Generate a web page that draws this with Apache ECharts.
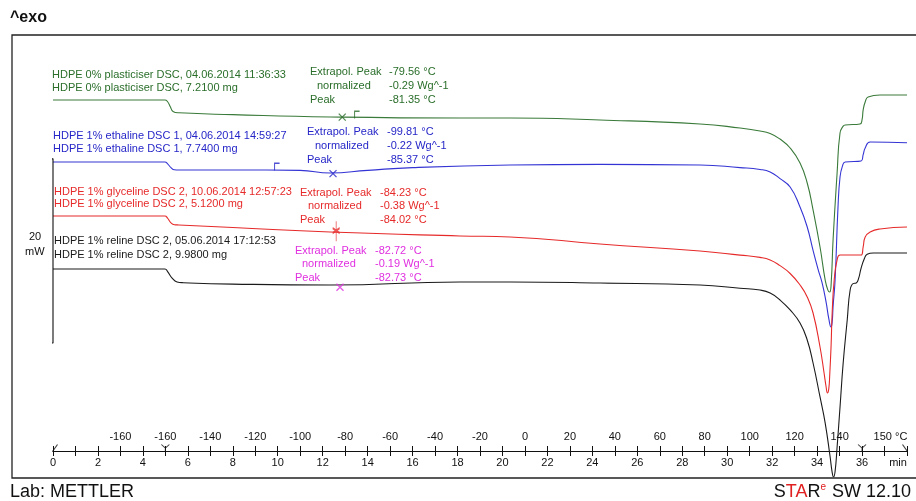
<!DOCTYPE html>
<html><head><meta charset="utf-8">
<script src="https://cdn.jsdelivr.net/npm/echarts@6/dist/echarts.min.js"></script>
<style>html,body{margin:0;padding:0;background:#fff}#c{width:916px;height:501px}</style>
</head><body><div id="c"></div>
<script>
// ---- data (time in min, heat flow in mW, arbitrary offset per curve) ----
const greenCurve = [[0,40.94],[4.98,40.94],[5.1,40.75],[5.22,40.2],[5.34,39.7],[5.6,39.55],[8,39.35],[12.33,39.1],[18.11,38.99],[20.34,38.99],[24.34,38.77],[28.79,38.34],[30.57,37.9],[31.46,37.58],[31.91,37.3],[32.35,36.7],[32.8,35.73],[33.24,34.10],[33.56,31.93],[33.82,29.0],[34.13,24.98],[34.36,21.39],[34.48,20.3],[34.56,20.09],[34.63,21.2],[34.71,25.74],[34.89,33.01],[35.02,37.36],[35.16,38.1],[35.25,38.23],[35.91,38.34],[36.0,38.8],[36.05,39.86],[36.15,40.8],[36.27,41.27],[36.8,41.49],[38,41.49]];
const blueCurve = [[0,34.21],[4.98,34.21],[5.1,34.0],[5.25,33.6],[5.4,33.36],[5.6,33.34],[8,33.34],[10.99,33.3],[12.33,33.01],[14,33.3],[16,33.6],[20.34,33.88],[24.34,33.95],[28.79,33.88],[30.57,33.6],[31.46,33.4],[31.91,33.12],[32.35,32.4],[32.8,31.49],[33.24,29.32],[33.56,27.15],[33.82,24.6],[34.05,22.5],[34.22,21.1],[34.40,19.0],[34.52,17.2],[34.62,16.29],[34.67,16.8],[34.71,18.5],[34.80,21.39],[34.93,29.32],[35.02,32.58],[35.12,33.7],[35.25,34.21],[35.96,34.32],[36.05,35.0],[36.14,35.73],[36.36,36.38],[38,36.3]];
const redCurve = [[0,28.35],[4.98,28.35],[5.1,28.1],[5.25,27.6],[5.4,27.4],[5.6,27.37],[8,27.1],[12.33,26.61],[18.11,26.18],[20.34,26.07],[24.34,25.3],[28.79,24.54],[30.57,24.1],[31.46,23.85],[31.91,23.57],[32.35,22.95],[32.8,22.1],[33.24,20.85],[33.56,19.55],[33.82,17.81],[34.13,14.12],[34.31,11.29],[34.40,9.8],[34.46,9.12],[34.52,9.6],[34.56,11.0],[34.62,14.12],[34.67,17.81],[34.76,21.39],[34.89,23.57],[35.02,24.11],[35.96,24.11],[36.05,25.0],[36.14,26.07],[36.36,26.61],[36.8,26.93],[38,27.15]];
const blackCurve = [[0,22.59],[4.98,22.59],[5.1,22.3],[5.3,21.6],[5.52,21.18],[5.8,21.1],[8,20.95],[12.33,20.85],[18.11,21.18],[20.34,21.18],[24.34,21.07],[28.79,20.85],[30.57,20.5],[31.46,20.3],[31.91,19.98],[32.35,19.22],[32.8,18.14],[33.24,16.72],[33.56,14.88],[33.82,12.38],[34.13,8.69],[34.36,5.86],[34.58,2.17],[34.67,0.5],[34.73,0.0],[34.80,0.6],[34.89,3.26],[35.02,7.60],[35.16,12.38],[35.34,17.05],[35.47,20.31],[35.6,21.0],[35.74,21.07],[35.85,21.6],[35.95,22.6],[36.1,23.7],[36.23,24.2],[36.5,24.33],[38,24.33]];

const scaleBarMW = [14.55, 34.55];          // 20 mW scale bar
const crossMarks = [[12.87,39.08],[12.46,32.95],[12.77,20.6]];
const crossColors = ['#2a6e2a','#2626c8','#e030e0'];
const redPeakMark = [[12.6,26.7]];
const tickMarks = [[13.53,39.05],[9.97,33.4]];
const tickColors = ['#2a6e2a','#2626c8'];
const segmentMarks = [[5,2.82],[36,2.82]];
const axisStartMark = [[0,2.82]];
const axisEndMark = [[38,2.82]];

const minuteTickValues = [0,2,4,6,8,10,12,14,16,18,20,22,24,26,28,30,32,34,36,38];
const minuteTickLabels = ['0','2','4','6','8','10','12','14','16','18','20','22','24','26','28','30','32','34','36','min'];
const tempTickValues = [3,5,7,9,11,13,15,17,19,21,23,25,27,29,31,33,35,38];
const tempTickLabels = ['-160','-160','-140','-120','-100','-80','-60','-40','-20','0','20','40','60','80','100','120','140','150 °C'];

const sampleTitles = [
  ['HDPE 0% plasticiser DSC, 04.06.2014 11:36:33','HDPE 0% plasticiser DSC, 7.2100 mg'],
  ['HDPE 1% ethaline DSC 1, 04.06.2014 14:59:27','HDPE 1% ethaline DSC 1, 7.7400 mg'],
  ['HDPE 1% glyceline DSC 2, 10.06.2014 12:57:23','HDPE 1% glyceline DSC 2, 5.1200 mg'],
  ['HDPE 1% reline DSC 2, 05.06.2014 17:12:53','HDPE 1% reline DSC 2, 9.9800 mg']
];
const peakNames = ['Extrapol. Peak','normalized','Peak'];
const peakValues = [
  ['-79.56 °C','-0.29 Wg^-1','-81.35 °C'],
  ['-99.81 °C','-0.22 Wg^-1','-85.37 °C'],
  ['-84.23 °C','-0.38 Wg^-1','-84.02 °C'],
  ['-82.72 °C','-0.19 Wg^-1','-82.73 °C']
];

// ---- styles / layout ----
const C = {green:'#2a6e2a', greenLine:'#3a7a3a', blue:'#2626c8', blueLine:'#3434d4', red:'#e62a2a', magenta:'#e030e0', black:'#1a1a1a'};
const FONT = 'Liberation Sans, Arial, sans-serif';
const chart = echarts.init(document.getElementById('c'), null, {renderer:'canvas'});

const titleLayout = [
  {x:52, y:[75,88], color:C.green},
  {x:53, y:[136,149], color:C.blue},
  {x:54, y:[192,204], color:C.red},
  {x:54, y:[241,255], color:C.black}
];
const peakLayout = [
  {xn:[310,317,310], xv:389, y:[72,86,100], color:C.green},
  {xn:[307,315,307], xv:387, y:[132,146,160], color:C.blue},
  {xn:[300,308,300], xv:380, y:[193,206,220], color:C.red},
  {xn:[295,302,295], xv:375, y:[251,264,278], color:C.magenta}
];

function txt(x, y, text, color, size, extra) {
  return Object.assign({type:'text', x:x, y:y, silent:true, z:10,
    style:Object.assign({text:text, fill:color, font:(size||11)+'px '+FONT, align:'left', verticalAlign:'middle'}, extra||{})});
}
const graphics = [
  {type:'rect', shape:{x:12, y:35, width:1000, height:443}, style:{fill:'none', stroke:'#222', lineWidth:1.3}, silent:true, z:1},
  txt(10, 18, '^exo', '#111', 16, {font:'bold 16px '+FONT}),
  txt(10, 492, 'Lab: METTLER', '#111', 18),
  {type:'text', x:911, y:492, silent:true, z:10, style:{
    text:'{k|S}{r|TA}{k|R}{s|e}{k| SW 12.10}', align:'right', verticalAlign:'middle',
    rich:{k:{fill:'#111', font:'18px '+FONT}, r:{fill:'#e02020', font:'18px '+FONT}, s:{fill:'#e02020', font:'10px '+FONT, verticalAlign:'top', padding:[0,1,10,0]}}}},
  txt(29, 237, '20', '#111', 11),
  txt(25, 252, 'mW', '#111', 11)
];
sampleTitles.forEach((lines, i) => {
  const L = titleLayout[i];
  lines.forEach((s, j) => graphics.push(txt(L.x, L.y[j], s, L.color, 11)));
});
peakValues.forEach((vals, i) => {
  const L = peakLayout[i];
  peakNames.forEach((n, j) => {
    graphics.push(txt(L.xn[j], L.y[j], n, L.color, 11));
    graphics.push(txt(L.xv, L.y[j], vals[j], L.color, 11));
  });
});

function curve(name, data, color) {
  return {name:name, type:'line', data:data, smooth:0.5, showSymbol:false, symbol:'none',
    lineStyle:{color:color, width:1.1}, z:3, silent:true};
}
function strokeMarks(name, data, path, size, offset, color, width) {
  return {name:name, type:'scatter', symbol:path, symbolSize:size, symbolOffset:offset, silent:true, z:5, clip:false,
    data:data, itemStyle:{color:'transparent', borderColor:color, borderWidth:width}};
}
const X_PATH = 'path://M0,0L10,10M10,0L0,10';
const option = {
  animation:false,
  backgroundColor:'#fff',
  grid:{left:53, right:9, top:35, bottom:24, containLabel:false},
  xAxis:[
    {type:'value', min:0, max:38, interval:1, position:'bottom', offset:-26,
     axisLine:{show:true, lineStyle:{color:'#111', width:1}},
     axisTick:{show:true, length:5, inside:false, lineStyle:{color:'#111'}},
     splitLine:{show:false},
     axisLabel:{show:true, margin:6, color:'#111', fontSize:11, fontFamily:FONT,
       formatter:function(v){ const i = minuteTickValues.indexOf(Math.round(v)); if(i<0) return ''; return v===38 ? '{u|min}' : minuteTickLabels[i]; },
       rich:{u:{fontSize:11, fontFamily:FONT, color:'#111', padding:[0,18,0,0]}}}},
    {type:'value', min:0, max:38, interval:1, position:'bottom', offset:-26,
     axisLine:{show:false},
     axisTick:{show:true, length:5, inside:true, lineStyle:{color:'#111'}},
     splitLine:{show:false},
     axisLabel:{show:true, inside:true, margin:9, color:'#111', fontSize:11, fontFamily:FONT,
       formatter:function(v){ const i = tempTickValues.indexOf(Math.round(v)); if(i<0) return ''; return v===38 ? '{u|'+tempTickLabels[i]+'}' : tempTickLabels[i]; },
       rich:{u:{fontSize:11, fontFamily:FONT, color:'#111', padding:[0,33,0,0]}}}}
  ],
  yAxis:{type:'value', min:0, max:48, show:false},
  graphic:graphics,
  series:[
    curve('HDPE 0% plasticiser', greenCurve, C.greenLine),
    curve('HDPE 1% ethaline', blueCurve, C.blueLine),
    curve('HDPE 1% glyceline', redCurve, C.red),
    curve('HDPE 1% reline', blackCurve, C.black),
    {name:'scale', type:'line', clip:false, symbol:'none', silent:true,
     data:[[-0.25,scaleBarMW[1]],[0,scaleBarMW[1]],[0,scaleBarMW[0]],[-0.25,scaleBarMW[0]]],
     lineStyle:{color:'#111', width:1.1}, z:4},
    {name:'peaks', type:'scatter', symbol:X_PATH, symbolSize:[7,7], silent:true, z:5,
     data:crossMarks.map((p,i)=>({value:p, itemStyle:{color:'transparent', borderColor:crossColors[i], borderWidth:1.3}}))},
    strokeMarks('redPeak', redPeakMark, 'path://M5,0L5,20M1,7L9,12M9,7L1,12', [7,20], [0,0], C.red, 1.3),
    {name:'onsets', type:'scatter', symbol:'path://M4,0L4,10M4,1L7,1', symbolSize:[5,8], symbolOffset:[0,-3], silent:true, z:5,
     data:tickMarks.map((p,i)=>({value:p, itemStyle:{color:'transparent', borderColor:tickColors[i], borderWidth:1.3}}))},
    strokeMarks('segments', segmentMarks, 'path://M0,0L5,6L10,0M5,6L5,12', [8,7], [0,-3], '#111', 1),
    strokeMarks('axisStart', axisStartMark, 'path://M0,10L6,0', [5,7], [2,-3], '#111', 1),
    strokeMarks('axisEnd', axisEndMark, 'path://M0,0L6,8', [5,7], [-2,-3], '#111', 1)
  ]
};
chart.setOption(option);
</script>
</body></html>
